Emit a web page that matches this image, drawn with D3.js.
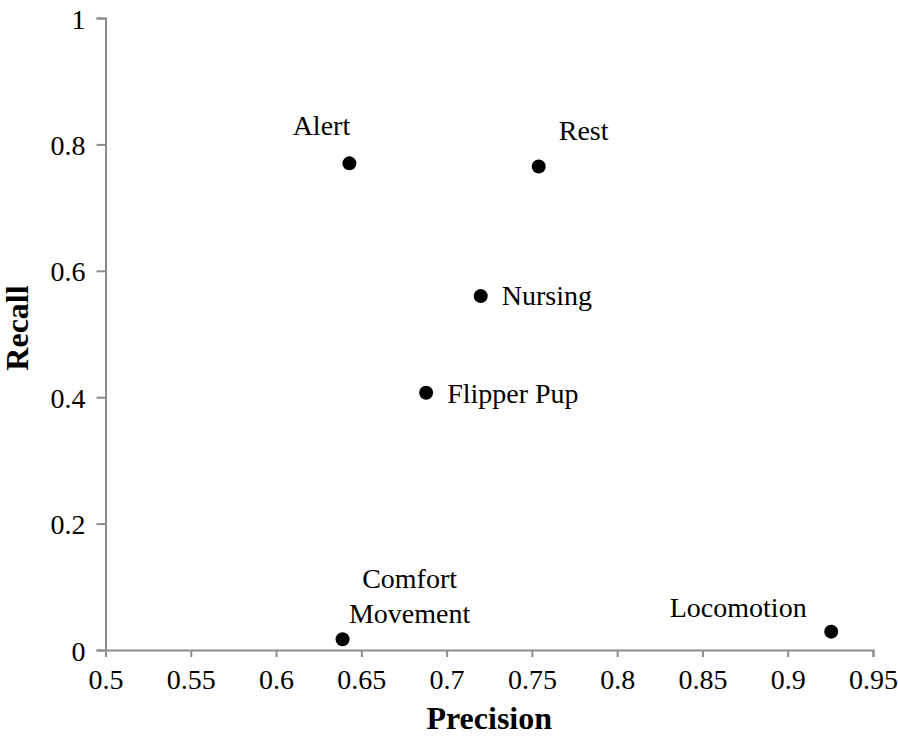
<!DOCTYPE html>
<html>
<head>
<meta charset="utf-8">
<script src="https://cdn.jsdelivr.net/npm/d3@7"></script>
<style>
  body { margin: 0; background: #fff; }
  svg { display: block; }
  text { font-family: "Liberation Serif", "Times New Roman", serif; fill: #000; }
</style>
</head>
<body>
<svg></svg>
<script>
// behaviour classes and their scores
var behaviours = ['Alert', 'Rest', 'Nursing', 'Flipper Pup', 'Comfort Movement', 'Locomotion'];
var precision = [0.643, 0.754, 0.720, 0.688, 0.639, 0.9255];
var recall = [0.770, 0.765, 0.560, 0.407, 0.017, 0.029];

var xTicks = [0.5, 0.55, 0.6, 0.65, 0.7, 0.75, 0.8, 0.85, 0.9, 0.95];
var yTicks = [0, 0.2, 0.4, 0.6, 0.8, 1];

var width = 898, height = 737;
var margin = {top: 18, right: 25, bottom: 87, left: 105.5};

var svg = d3.select('svg')
  .attr('width', width)
  .attr('height', height);

var x = d3.scaleLinear()
  .domain([0.5, 0.95])
  .range([margin.left, width - margin.right]);

var y = d3.scaleLinear()
  .domain([0, 1])
  .range([height - margin.bottom, margin.top]);

var fmt = d => String(+d.toFixed(2));

// x axis
var gx = svg.append('g')
  .attr('transform', 'translate(0,' + y(0) + ')')
  .call(d3.axisBottom(x).tickValues(xTicks).tickFormat(fmt).tickSizeOuter(0).tickSize(7).tickPadding(12));

// y axis
var gy = svg.append('g')
  .attr('transform', 'translate(' + x(0.5) + ',0)')
  .call(d3.axisLeft(y).tickValues(yTicks).tickFormat(fmt).tickSizeOuter(0).tickSize(9).tickPadding(11));

[gx, gy].forEach(g => {
  g.select('.domain').attr('stroke', '#8c8c8c').attr('stroke-width', 2);
  g.selectAll('.tick line').attr('stroke', '#8c8c8c').attr('stroke-width', 2);
  g.selectAll('.tick text')
    .attr('font-family', '"Liberation Serif", serif')
    .attr('font-size', 28)
    .attr('fill', '#000');
});
gy.selectAll('.tick text').attr('dy', '0.36em');

// axis titles
svg.append('text')
  .attr('x', (x(0.5) + x(0.95)) / 2)
  .attr('y', 729)
  .attr('text-anchor', 'middle')
  .attr('font-size', 32)
  .attr('font-weight', 'bold')
  .text('Precision');

svg.append('text')
  .attr('transform', 'translate(28,328) rotate(-90)')
  .attr('text-anchor', 'middle')
  .attr('font-size', 32)
  .attr('font-weight', 'bold')
  .text('Recall');

var points = behaviours.map((b, i) => ({name: b, p: precision[i], r: recall[i]}));

// label placement around each dot
var labelPos = {
  'Alert': {dx: -28, dy: -28, anchor: 'middle'},
  'Rest': {dx: 20, dy: -27, anchor: 'start'},
  'Nursing': {dx: 21, dy: 9, anchor: 'start'},
  'Flipper Pup': {dx: 21, dy: 10, anchor: 'start'},
  'Comfort Movement': {dx: 67, dy: -51, anchor: 'middle'},
  'Locomotion': {dx: -93, dy: -15, anchor: 'middle'}
};

svg.append('g').selectAll('circle')
  .data(points).enter()
  .append('circle')
  .attr('cx', d => x(d.p))
  .attr('cy', d => y(d.r))
  .attr('r', 7)
  .attr('fill', '#000');

svg.append('g').selectAll('text')
  .data(points).enter()
  .append('text')
  .attr('x', d => x(d.p) + labelPos[d.name].dx)
  .attr('y', d => y(d.r) + labelPos[d.name].dy)
  .attr('text-anchor', d => labelPos[d.name].anchor)
  .attr('font-size', 28)
  .each(function(d) {
    var words = d.name === 'Comfort Movement' ? ['Comfort', 'Movement'] : [d.name];
    var t = d3.select(this);
    words.forEach((w, i) => {
      t.append('tspan')
        .attr('x', x(d.p) + labelPos[d.name].dx)
        .attr('dy', i === 0 ? 0 : 35)
        .text(w);
    });
  });
</script>
</body>
</html>
